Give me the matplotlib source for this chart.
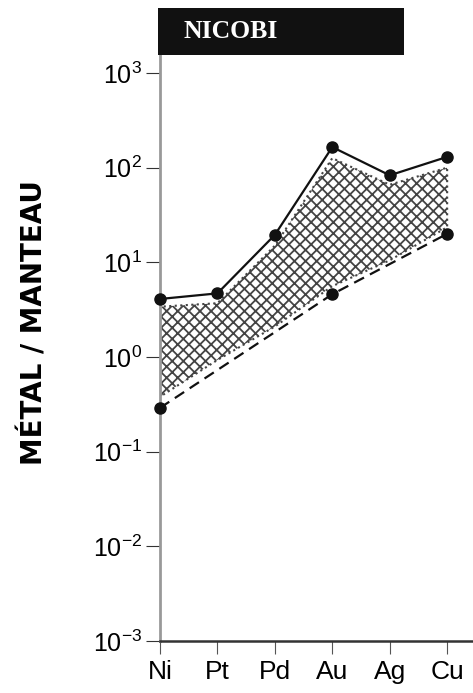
import numpy as np
import matplotlib.pyplot as plt
from matplotlib.patches import Rectangle

elements = ['Ni', 'Pt', 'Pd', 'Au', 'Ag', 'Cu']
upper = [4.1, 4.7, 19.5, 165, 83, 130]
lower_idx = [0, 3, 5]
lower = [0.29, 4.6, 20]
band_top = [3.4, 3.7, 15, 126, 66, 100]
band_bottom = [0.38, 0.93, 2.1, 5.6, 10.5, 23.5]
decades = [-3, -2, -1, 0, 1, 2, 3]

plt.rcParams['font.family'] = ['Liberation Sans', 'DejaVu Sans']
plt.rcParams['hatch.linewidth'] = 1.3

fig = plt.figure(figsize=(4.73, 6.93), dpi=100)
ax = fig.add_axes([160 / 473, 52 / 693, 313 / 473, (641 - 55) / 693])

x = np.arange(len(elements))
ax.fill_between(x, band_bottom, band_top, facecolor='white', edgecolor='#444444',
                hatch='xxx', linewidth=1.5, linestyle=':', zorder=1)
ax.plot(x, upper, color='#111111', linewidth=1.6, marker='o', markersize=8,
        clip_on=False, zorder=3)
ax.plot(lower_idx, lower, color='#111111', linewidth=1.6, linestyle='--', dashes=(5, 3),
        marker='o', markersize=8, clip_on=False, zorder=3)

ax.set_yscale('log')
ax.set_ylim(1e-3, 10 ** 3.19)
ax.set_xlim(0, 5.45)
ax.set_yticks([10.0 ** d for d in decades])
ax.set_yticklabels([r'$\mathregular{10^{%d}}$' % d for d in decades])
ax.minorticks_off()
ax.set_xticks(x)
ax.set_xticklabels(elements)
ax.tick_params(axis='y', length=10, width=0.8, color='#333333', labelsize=18, pad=3)
ax.tick_params(axis='x', length=9, width=0.8, color='#555555', labelsize=19, pad=5)

for s in ['top', 'right']:
    ax.spines[s].set_visible(False)
ax.spines['left'].set_color('#999999')
ax.spines['left'].set_linewidth(2)
ax.spines['bottom'].set_color('#333333')
ax.spines['bottom'].set_linewidth(1.8)

ax.set_ylabel('MÉTAL / MANTEAU', fontsize=20, fontweight='bold', family='DejaVu Sans')
ax.yaxis.set_label_coords(-0.355, 0.544)

fig.patches.append(Rectangle((158 / 473, 1 - 55 / 693), (404 - 158) / 473, 47 / 693,
                             transform=fig.transFigure, facecolor='#111111',
                             edgecolor='none'))
fig.text(183 / 473, 1 - 32 / 693, 'NICOBI', color='white', fontsize=18.5,
         fontweight='bold', family='Liberation Serif', va='center', ha='left')

fig.savefig('out.png', dpi=100)
